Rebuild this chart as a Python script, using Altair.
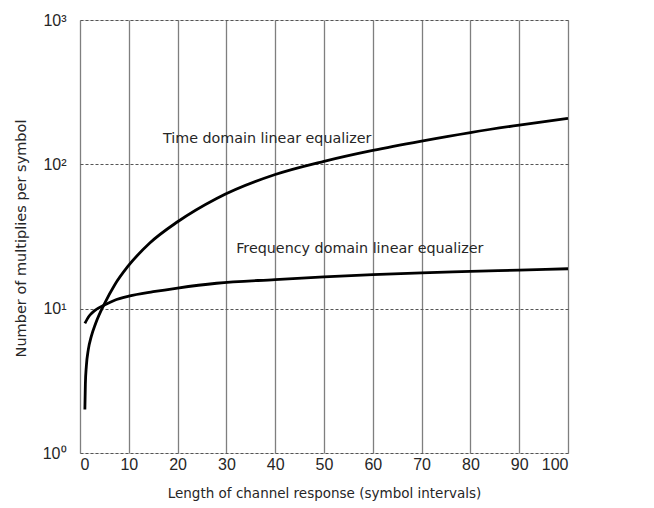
import altair as alt
import pandas as pd

# ---- data ----
x_ticks = [0, 10, 20, 30, 40, 50, 60, 70, 80, 90, 100]
y_ticks = [1, 10, 100, 1000]
y_tick_labels = ["10⁰", "10¹", "10²", "10³"]

time_x = [1.0, 1.1, 1.3, 1.7, 2.3, 3.2, 5.0, 7.1, 9.8, 14.3, 20, 28, 40, 50, 60, 70, 80, 90, 100]
time_y = [2.0, 3.0, 4.0, 5.2, 6.4, 7.9, 10.8, 14.6, 19.6, 28.5, 40, 58, 85, 105, 125, 145, 166, 187, 208]

freq_x = [1.0, 1.5, 2, 3, 5, 7, 10, 15, 20, 28, 40, 50, 60, 70, 80, 90, 100]
freq_y = [7.9, 8.5, 9.0, 9.7, 10.6, 11.4, 12.2, 13.1, 13.9, 15.0, 15.9, 16.6, 17.2, 17.7, 18.1, 18.5, 18.9]

series_names = ["Time domain linear equalizer", "Frequency domain linear equalizer"]
label_x = [17, 32]
label_y = [149, 26]

FONT = "DejaVu Sans"
TICKFONT = "Liberation Sans"
TXT = "#262626"

lines = pd.DataFrame(
    [{"x": a, "y": b, "s": series_names[0]} for a, b in zip(time_x, time_y)]
    + [{"x": a, "y": b, "s": series_names[1]} for a, b in zip(freq_x, freq_y)]
)
labels = pd.DataFrame({"x": label_x, "y": label_y, "t": series_names})

label_expr = " : ".join(
    f"datum.value == {v} ? '{t}'" for v, t in zip(y_ticks, y_tick_labels)
) + " : ''"

xscale = alt.Scale(domain=[0, 100], nice=False)
yscale = alt.Scale(type="log", domain=[1, 1000], nice=False)

xaxis = alt.Axis(
    values=x_ticks, grid=True, gridColor="#7f7f7f", gridWidth=1.3,
    domain=False, ticks=False, labelFontSize=16, labelPadding=3,
    labelColor=TXT, labelFont=TICKFONT, title="Length of channel response (symbol intervals)",
    titleFont=FONT, titleFontSize=13.5, titleFontWeight="normal", titleColor=TXT,
    titlePadding=14,
)
yaxis = alt.Axis(
    values=y_ticks, labelExpr=label_expr, grid=True, gridColor="#555555",
    gridDash=[3, 2], gridWidth=1, domain=False, ticks=False,
    labelFontSize=16, labelPadding=14, labelColor=TXT, labelFont=TICKFONT,
    title="Number of multiplies per symbol", titleFont=FONT, titleFontSize=14.5,
    titleFontWeight="normal", titleColor=TXT, titleX=-52, titleY=218,
)

curves = alt.Chart(lines).mark_line(color="black", strokeWidth=2.8, interpolate="monotone").encode(
    x=alt.X("x:Q", scale=xscale, axis=xaxis),
    y=alt.Y("y:Q", scale=yscale, axis=yaxis),
    detail="s:N",
)

texts = alt.Chart(labels).mark_text(
    align="left", baseline="middle", font=FONT, fontSize=14.3, color=TXT
).encode(
    x=alt.X("x:Q", scale=xscale),
    y=alt.Y("y:Q", scale=yscale),
    text="t:N",
)

chart = (curves + texts).properties(
    width=488, height=433,
    autosize="none",
    padding={"left": 72, "top": 12, "right": 20, "bottom": 50},
).configure_view(stroke="#555555", strokeWidth=1.6).configure(background="white")

chart.save("out.html", embed_options={"renderer": "svg", "actions": False})
